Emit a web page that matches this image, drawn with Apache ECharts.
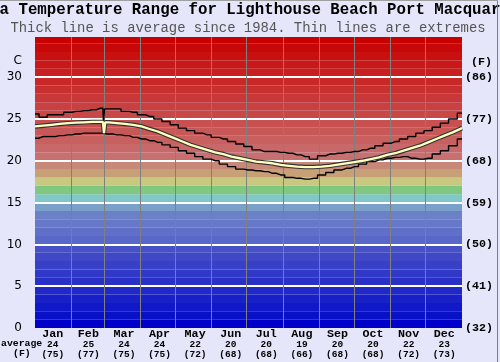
<!DOCTYPE html>
<html><head><meta charset="utf-8">
<script src="https://cdn.jsdelivr.net/npm/echarts@6/dist/echarts.min.js"></script>
<style>html,body{margin:0;padding:0;background:#e6e6fa}#c{width:500px;height:362px}</style>
</head><body><div id="c"></div>
<script>
// ---- data ----
const months = ['Jan','Feb','Mar','Apr','May','Jun','Jul','Aug','Sep','Oct','Nov','Dec'];
const monthAvgC = ['24','25','24','24','22','20','20','19','20','20','22','23'];
const monthAvgF = ['(75)','(77)','(75)','(75)','(72)','(68)','(68)','(66)','(68)','(68)','(72)','(73)'];
const monthStarts = [31,59,90,120,151,181,212,243,273,304,334];
const fTickLabels = ['(32)','(41)','(50)','(59)','(68)','(77)','(86)'];
const days = [0,7,14,21,28,35,42,49,56,58,59,60,63,70,77,84,91,98,105,112,119,126,133,140,147,154,161,168,175,182,189,196,203,210,217,224,231,238,245,252,259,266,273,280,287,294,301,308,315,322,329,336,343,350,357,365];
const avgTemp = [24.1,24.2,24.3,24.4,24.5,24.55,24.6,24.65,24.65,24.65,23.3,24.6,24.6,24.5,24.4,24.3,24.1,23.8,23.5,23.1,22.7,22.3,21.9,21.6,21.3,21.0,20.8,20.5,20.3,20.1,19.9,19.8,19.7,19.5,19.4,19.3,19.25,19.25,19.3,19.4,19.55,19.7,19.85,20.0,20.2,20.4,20.7,20.9,21.2,21.5,21.8,22.2,22.6,23.0,23.4,23.9];
const maxTemp = [25.6,25.2,25.5,25.5,25.8,25.9,26.0,26.1,26.3,26.3,24.7,26.2,26.2,26.2,25.9,25.8,25.5,25.3,25.0,24.7,24.3,23.9,23.6,23.3,23.1,22.8,22.6,22.3,22.0,21.7,21.3,21.1,21.1,21.0,20.9,20.7,20.5,20.2,20.6,20.8,20.9,21.0,21.1,21.3,21.5,21.8,22.1,22.3,22.6,22.9,23.3,23.6,24.0,24.5,25.0,25.7];
const minTemp = [22.7,22.9,22.9,23.0,23.1,23.2,23.3,23.3,23.3,23.3,23.3,23.2,23.2,23.1,23.0,22.8,22.6,22.4,22.2,21.9,21.6,21.2,20.9,20.5,20.2,20.0,19.6,19.3,19.0,18.9,18.8,18.7,18.5,18.3,18.0,17.9,17.8,17.9,18.3,18.6,18.9,19.1,19.3,19.6,19.9,20.1,20.3,20.4,20.5,20.3,20.2,20.3,20.8,21.2,21.8,22.6];
// background colour per 1°C band, from 0°C upwards
const bandColors = ['#0000c8','#0810c8','#1018c8','#1820c8','#2028c8','#2830c8','#3038c8','#3840c8','#4048c8','#4850c8',
  '#5868c8','#6070c8','#6878c8','#6c80c8','#78a0c8','#80c8c8','#80c880','#c8c880','#c8a078','#c88878',
  '#c87070','#c86868','#c86060','#c85858','#c85050','#c84848','#c84040','#c83838','#c83030','#c82828',
  '#c82020','#c81818','#c81010','#c80808','#c80000'];
const yMax = 34.8;

const mono = 'Liberation Mono';
const chart = echarts.init(document.getElementById('c'), null, {renderer:'canvas'});
const pts = arr => days.map((d,i)=>[d, arr[i]]);
const bands = bandColors.map((c,i)=>[{yAxis:i, itemStyle:{color:c}}, {yAxis:Math.min(i+1,yMax)}]);

chart.setOption({
  backgroundColor:'#e6e6fa',
  animation:false,
  grid:{left:35, right:38, top:37, bottom:34, containLabel:false},
  xAxis:[
    {type:'value', min:0, max:365, show:false},
    {type:'category', data:months, position:'bottom', boundaryGap:true,
     axisLine:{show:false}, axisTick:{show:false}, splitLine:{show:false},
     axisLabel:{interval:0, margin:1,
       formatter:(v,i)=>'{m|'+v+'}\n{c|'+monthAvgC[i]+'}\n{f|'+monthAvgF[i]+'}',
       rich:{
         m:{fontFamily:mono, fontWeight:'bold', fontSize:11.7, lineHeight:11, color:'#000'},
         c:{fontFamily:mono, fontWeight:'bold', fontSize:9.5, lineHeight:9.5, color:'#000'},
         f:{fontFamily:mono, fontWeight:'bold', fontSize:9.5, lineHeight:10, color:'#000'}
       }}}
  ],
  yAxis:[
    {type:'value', min:0, max:yMax, interval:5, position:'left', z:1,
     axisLine:{show:false}, axisTick:{show:false},
     axisLabel:{margin:13, fontSize:12, fontFamily:'DejaVu Sans', color:'#000', showMaxLabel:false},
     splitLine:{show:true, showMaxLine:false, showMinLine:false, lineStyle:{color:'#ffffff', width:2}}},
    {type:'value', min:0, max:yMax, interval:5, position:'right', z:1,
     axisLine:{show:false}, axisTick:{show:false}, splitLine:{show:false},
     axisLabel:{margin:3, fontSize:11.7, fontFamily:mono, fontWeight:'bold', color:'#000', showMaxLabel:false,
       formatter:v=>fTickLabels[Math.round(v/5)] || ''}}
  ],
  series:[
    {type:'line', data:[], z:0, silent:true,
     markArea:{silent:true, z:0, data:bands}},
    {type:'line', data:[], z:2, silent:true,
     markLine:{silent:true, z:2, symbol:['none','none'], label:{show:false},
       lineStyle:{color:'#808080', width:1, type:'solid'},
       data:monthStarts.map(d=>({xAxis:d}))}},
    {type:'line', data:pts(maxTemp), step:'middle', showSymbol:false, z:3,
     lineStyle:{color:'#000', width:1.4}},
    {type:'line', data:pts(minTemp), step:'middle', showSymbol:false, z:3,
     lineStyle:{color:'#000', width:1.4}},
    {type:'line', data:pts(avgTemp), showSymbol:false, z:4,
     lineStyle:{color:'#333', width:4.5}},
    {type:'line', data:pts(avgTemp), showSymbol:false, z:5,
     lineStyle:{color:'#ffffc0', width:2.3}}
  ],
  graphic:[
    {type:'text', x:250, y:10, style:{text:'Sea Temperature Range for Lighthouse Beach Port Macquarie', fontFamily:mono, fontWeight:'bold', fontSize:15.75, fill:'#000', textAlign:'center', textVerticalAlign:'middle'}},
    {type:'text', x:248, y:28, style:{text:'Thick line is average since 1984. Thin lines are extremes', fontFamily:mono, fontSize:13.9, fill:'#555', textAlign:'center', textVerticalAlign:'middle'}},
    {type:'text', x:22, y:61, style:{text:'C', fontFamily:'DejaVu Sans', fontSize:12, fill:'#000', textAlign:'right', textVerticalAlign:'middle'}},
    {type:'text', x:471, y:62.5, style:{text:'(F)', fontFamily:mono, fontWeight:'bold', fontSize:11.7, fill:'#000', textAlign:'left', textVerticalAlign:'middle'}},
    {type:'text', x:1, y:343.5, style:{text:'average', fontFamily:mono, fontWeight:'bold', fontSize:9.8, fill:'#000', textAlign:'left', textVerticalAlign:'middle'}},
    {type:'text', x:13, y:353.5, style:{text:'(F)', fontFamily:mono, fontWeight:'bold', fontSize:9.8, fill:'#000', textAlign:'left', textVerticalAlign:'middle'}},
    {type:'line', shape:{x1:497.5, y1:0, x2:497.5, y2:362}, style:{stroke:'#808080', lineWidth:1}},
    {type:'line', shape:{x1:0, y1:0.5, x2:498, y2:0.5}, style:{stroke:'#a0a0a0', lineWidth:1}}
  ]
});
</script>
</body></html>
